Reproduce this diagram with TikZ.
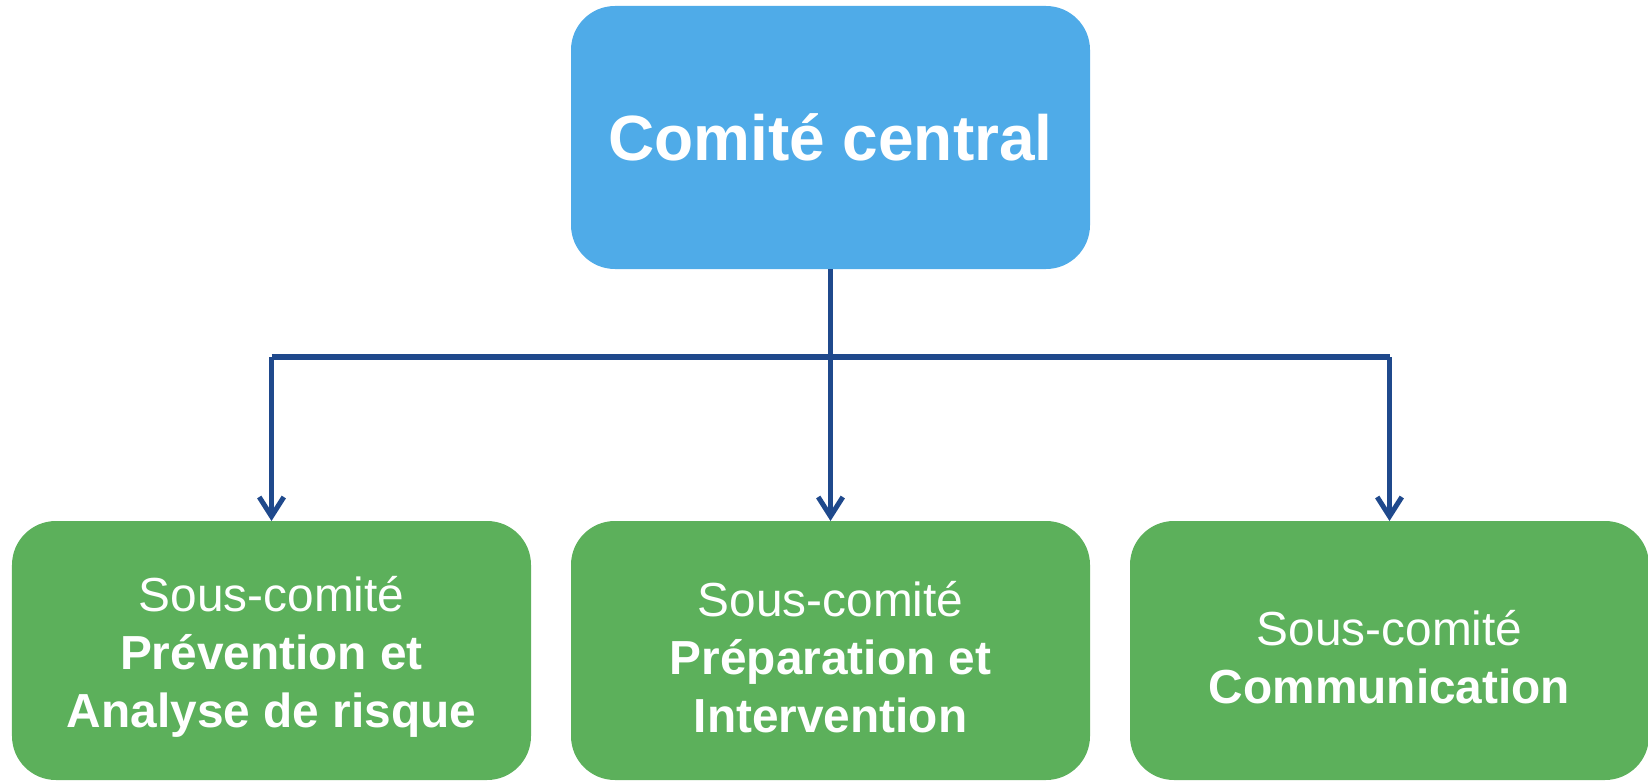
\documentclass[tikz,border=0pt]{standalone}
\usepackage{fontspec}
\setmainfont{Liberation Sans}
\usepackage{tikz}
\usetikzlibrary{arrows.meta,positioning}

\definecolor{centralblue}{RGB}{79,171,232}
\definecolor{subgreen}{RGB}{92,176,91}
\definecolor{linkblue}{RGB}{31,73,140}

\newcommand{\firstline}{\rule{0pt}{1.02em}}

\begin{document}
\begin{tikzpicture}[
      topbox/.style={
         rectangle,
         rounded corners=25pt,
         fill=centralblue,
         text=white,
         inner sep=0pt,
         outer sep=0pt,
         minimum width=10.38cm,
         minimum height=5.26cm,
         font=\fontsize{36.4}{43}\selectfont\bfseries},
      subbox/.style={
         rectangle,
         rounded corners=25pt,
         fill=subgreen,
         text=white,
         align=center,
         inner sep=0pt,
         outer sep=0pt,
         minimum width=10.38cm,
         minimum height=5.18cm,
         font=\fontsize{27.2}{33}\selectfont},
      myline/.style={draw=linkblue,line width=2.85pt},
      myarrow/.style={myline,-{Straight Barb[length=11pt,width=14pt]}},
      node distance=5.04cm and 0.8cm
      ]
      \useasboundingbox (0,0) rectangle (32.96,-15.62);

      \node[topbox] (central) at (16.61,-2.75) {Comité central};
      \node[subbox,below=of central] (prep) {\firstline Sous-comité\\\textbf{Préparation et}\\\textbf{Intervention}};
      \node[subbox,left=of prep] (prev) {\firstline Sous-comité\\\textbf{Prévention et}\\\textbf{Analyse de risque}};
      \node[subbox,right=of prep] (comm) {\firstline Sous-comité\\\textbf{Communication}};

      \coordinate (bus) at (0,-7.14);

      \draw[myline] (central.south) -- (central.south |- bus);
      \draw[myline] (prev.north |- bus) -- (comm.north |- bus);

    \foreach \n in {prev,prep,comm}% branch down to each sub-committee
       \draw[myarrow] (\n.north |- bus) -- (\n.north);

    \end{tikzpicture}
\end{document}
